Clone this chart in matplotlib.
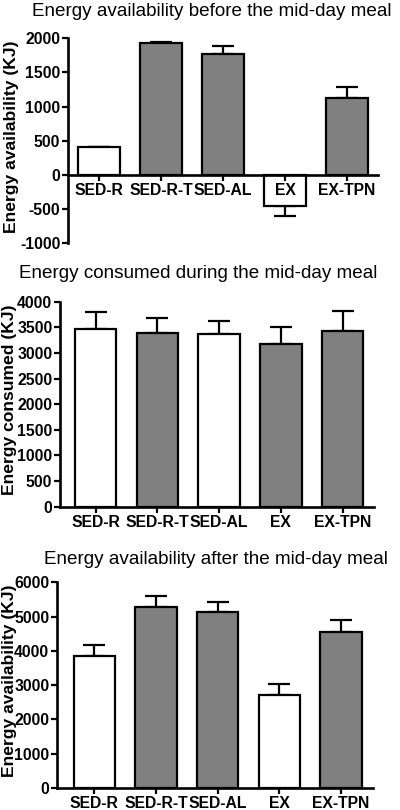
import matplotlib
matplotlib.use("Agg")
import matplotlib.pyplot as plt
import numpy as np

plt.rcParams['font.family'] = ['Liberation Sans', 'DejaVu Sans']
plt.rcParams['axes.unicode_minus'] = False

groups = ["SED-R", "SED-R-T", "SED-AL", "EX", "EX-TPN"]

before_vals = [405, 1925, 1765, -455, 1130]
before_err = [10, 25, 120, 140, 160]

during_vals = [3460, 3390, 3370, 3180, 3435]
during_err = [330, 295, 260, 320, 375]

after_vals = [3850, 5290, 5125, 2720, 4560]
after_err = [320, 320, 300, 320, 350]

titles = ["Energy availability before the mid-day meal",
          "Energy consumed during the mid-day meal",
          "Energy availability after the mid-day meal"]
ylabels = ["Energy availability (KJ)", "Energy consumed (KJ)", "Energy availability (KJ)"]
yticks = [[-1000, -500, 0, 500, 1000, 1500, 2000],
          [0, 500, 1000, 1500, 2000, 2500, 3000, 3500, 4000],
          [0, 1000, 2000, 3000, 4000, 5000, 6000]]

W, H = 400, 810
WHITE, GREY = "white", "#808080"
colors = [[WHITE, GREY, GREY, WHITE, GREY],
          [WHITE, GREY, WHITE, GREY, GREY],
          [WHITE, GREY, GREY, WHITE, GREY]]

layouts = [
    dict(px=(68, 378, 38.3, 243.3), xlim=(-0.5, 4.5), ylim=(-1000, 2000), ylab_x=12, title=(212, 16)),
    dict(px=(60, 374, 301.7, 506.7), xlim=(-0.579, 4.51), ylim=(0, 4000), ylab_x=10, title=(198.5, 277.7)),
    dict(px=(57, 372.7, 582.3, 788), xlim=(-0.605, 4.514), ylim=(0, 6000), ylab_x=10, title=(216, 564)),
]

fig = plt.figure(figsize=(W / 100, H / 100), dpi=100)

all_vals = [before_vals, during_vals, after_vals]
all_errs = [before_err, during_err, after_err]

for i in range(3):
    L = layouts[i]
    l, r, t, b = L['px']
    ax = fig.add_axes([l / W, (H - b) / H, (r - l) / W, (b - t) / H])
    vals = np.array(all_vals[i], dtype=float)
    errs = np.array(all_errs[i], dtype=float)
    x = np.arange(len(groups))
    ax.bar(x, vals, width=0.67, color=colors[i], edgecolor="black", linewidth=1.6, zorder=2)
    lower = np.where(vals < 0, errs, 0)
    upper = np.where(vals >= 0, errs, 0)
    ax.errorbar(x, vals, yerr=[lower, upper], fmt="none", ecolor="black",
                elinewidth=1.6, capsize=7.8, capthick=1.6, zorder=1)
    ax.set_axisbelow(False)
    ax.set_xlim(*L['xlim'])
    ax.set_ylim(*L['ylim'])
    ax.set_yticks(yticks[i])
    ax.set_xticks(x)
    ax.set_xticklabels(groups)
    for s in ["top", "right"]:
        ax.spines[s].set_visible(False)
    for s in ["left", "bottom"]:
        ax.spines[s].set_linewidth(1.9)
    ax.spines["bottom"].set_position(("data", 0))
    ax.tick_params(axis="both", width=1.6, length=4.5, labelsize=11.3)
    ax.tick_params(axis="x", pad=1.5)
    ax.tick_params(axis="y", pad=1.0)
    for lab in ax.get_xticklabels() + ax.get_yticklabels():
        lab.set_fontweight("bold")
    ax.set_ylabel(ylabels[i], fontsize=12.6, fontweight="bold")
    ax.yaxis.label.set_va("center")
    ax.yaxis.set_label_coords((L['ylab_x'] - l) / (r - l), 0.52)
    ax.set_facecolor("none")
    tx, ty = L['title']
    fig.text(tx / W, (H - ty) / H, titles[i], ha="center", va="baseline", fontsize=13.6)

fig.savefig("out.png", dpi=100)
